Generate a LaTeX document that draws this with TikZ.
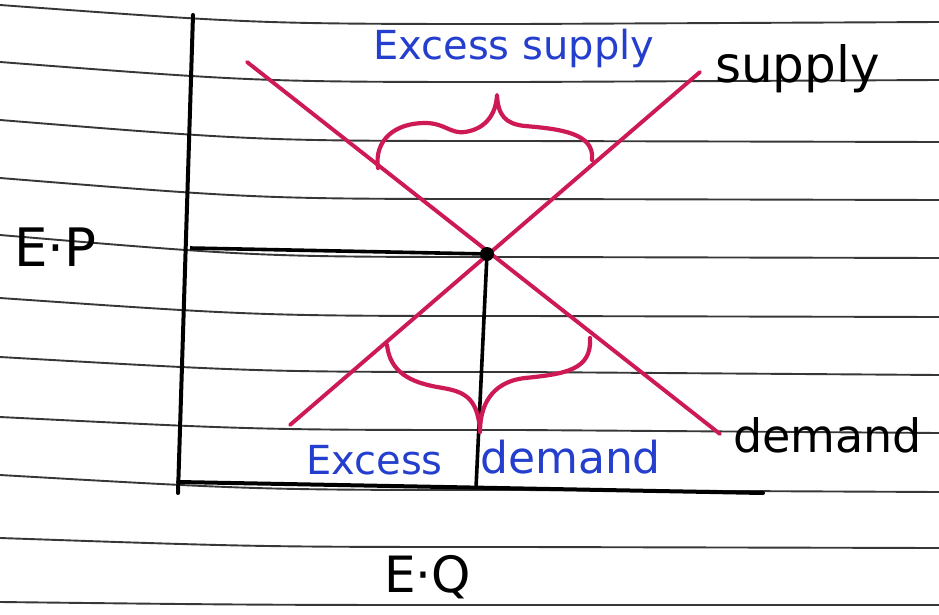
\documentclass[tikz,border=0pt]{standalone}
\usepackage{fontspec}
\setmainfont{DejaVu Sans}
\definecolor{pen}{RGB}{206,26,84}
\definecolor{ink}{RGB}{36,62,205}
\definecolor{rule}{RGB}{55,55,55}
\tikzset{
  ruled/.style={draw=rule, line width=1.9pt},
  axisline/.style={draw=black, line width=4pt, line cap=round},
  guide/.style={draw=black, line width=3.6pt},
  curve/.style={draw=pen, line width=3.9pt, line cap=round},
  bracepen/.style={draw=pen, line width=4.2pt, line cap=round, line join=round},
  lbl/.style={anchor=base west, inner sep=0pt},
}
\newcommand{\fs}[1]{\fontsize{#1}{#1}\selectfont}
\begin{document}
\begin{tikzpicture}[x=1pt, y=-1pt]
  \fill[white] (0,0) rectangle (939,615);
  \useasboundingbox (0,0) rectangle (939,615);
  % ruled paper lines: left y, middle y, right y
  \foreach \yl/\ym/\yr in {5/24/22, 62/82/80, 120/141/142, 178/199/200, 235/257/258,
      298/316/317, 357/372/375, 417/430/433, 475/490/492, 538/547/548, 602/605/605}
    \draw[ruled] (0,\yl) .. controls (260,\ym) .. (520,\ym) -- (939,\yr);
  % axes
  \coordinate (ytop) at (193,15);
  \coordinate (ybot) at (178,493);
  \coordinate (xleft) at (178,482);
  \coordinate (xright) at (763,493);
  \draw[axisline] (ytop) -- (ybot);
  \draw[axisline] (xleft) -- (xright);
  % supply and demand
  \coordinate (s1) at (290,425);
  \coordinate (s2) at (700,72);
  \coordinate (d1) at (247,62);
  \coordinate (d2) at (720,434);
  \draw[curve] (s1) -- (s2);
  \draw[curve] (d1) -- (d2);
  % equilibrium
  \node[circle, fill=black, inner sep=0pt, minimum size=14pt] (eq) at (487,254) {};
  \coordinate (pleft) at (190,248);
  \coordinate (qfoot) at (476,488);
  \draw[guide] (pleft) -- (eq.center);
  \draw[guide] (eq.center) -- (qfoot);
  % excess supply brace
  \draw[bracepen] (378,168) .. controls (374,140) and (395,123) .. (425,123)
    .. controls (445,123) and (450,134) .. (465,132)
    .. controls (485,129) and (496,115) .. (497,95)
    .. controls (498,115) and (505,124) .. (525,126)
    .. controls (560,129) and (595,133) .. (592,160);
  % excess demand brace
  \draw[bracepen] (387,345) .. controls (390,372) and (410,382) .. (437,387)
    .. controls (462,391) and (478,395) .. (480,432)
    .. controls (480,398) and (498,381) .. (525,378)
    .. controls (565,374) and (592,370) .. (590,338);
  % labels
  \node[lbl, text=ink, font=\fs{40}] (exsup) at (373,60) {Excess supply};
  \node[lbl, text=black, font=\fs{50}] (supl) at (715,83) {supply};
  \node[lbl, text=black, font=\fs{46}] (deml) at (733,452) {demand};
  \node[lbl, text=ink, font=\fs{40}] (exd1) at (306,474) {Excess};
  \node[lbl, text=ink, font=\fs{44}] (exd2) at (480,473) {demand};
  \node[lbl, text=black, font=\fs{53}] (ep) at (14,266) {E·P};
  \node[lbl, text=black, font=\fs{50}] (eqlbl) at (384,592) {E·Q};
\end{tikzpicture}
\end{document}
